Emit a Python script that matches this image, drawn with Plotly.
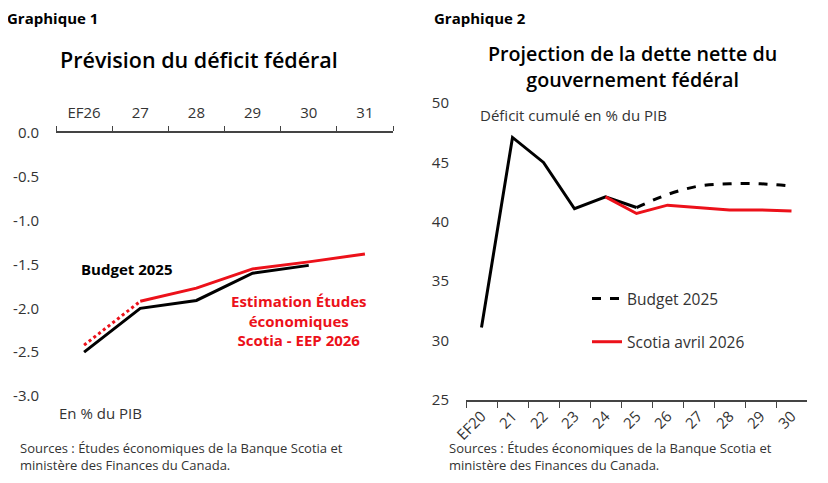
import plotly.graph_objects as go

# Graphique 1 - déficit fédéral (% du PIB)
years_def = ['EF26', '27', '28', '29', '30', '31']
budget_def = [-2.5, -2.0, -1.91, -1.6, -1.51, None]
scotia_def_est = [-2.42, -1.92, None, None, None, None]
scotia_def = [None, -1.92, -1.77, -1.55, -1.47, -1.38]

# Graphique 2 - dette nette (% du PIB)
years_debt = ['EF20', '21', '22', '23', '24', '25', '26', '27', '28', '29', '30']
budget_debt_hist = [31.1, 47.1, 45.0, 41.1, 42.1, 41.2, None, None, None, None, None]
budget_debt_proj = [None, None, None, None, None, 41.2, 42.3, 43.0, 43.2, 43.2, 43.0]
scotia_debt = [None, None, None, None, 42.1, 40.7, 41.4, 41.2, 41.0, 41.0, 40.9]

RED = '#EC111A'
TXT = '#333333'
FONT = 'Open Sans'

# page body has an 8px margin, so the figure is a bit smaller than the window
W, H, OFF = 820, 475, 8


def px(x):
    return (x - OFF) / W


def py(y):
    return 1 - (y - OFF) / H


fig = go.Figure()

# left chart
fig.add_trace(go.Scatter(x=years_def, y=budget_def, mode='lines',
                         line=dict(color='black', width=3), showlegend=False,
                         xaxis='x', yaxis='y'))
fig.add_trace(go.Scatter(x=years_def, y=scotia_def_est, mode='lines',
                         line=dict(color=RED, width=3, dash='dot'), showlegend=False,
                         xaxis='x', yaxis='y'))
fig.add_trace(go.Scatter(x=years_def, y=scotia_def, mode='lines',
                         line=dict(color=RED, width=3), showlegend=False,
                         xaxis='x', yaxis='y'))

# right chart
fig.add_trace(go.Scatter(x=years_debt, y=budget_debt_hist, mode='lines',
                         line=dict(color='black', width=3), showlegend=False,
                         xaxis='x2', yaxis='y2'))
fig.add_trace(go.Scatter(x=years_debt, y=budget_debt_proj, mode='lines',
                         line=dict(color='black', width=3, dash='dash', shape='spline'),
                         name='Budget 2025', legendgroup='a',
                         xaxis='x2', yaxis='y2'))
fig.add_trace(go.Scatter(x=years_debt, y=scotia_debt, mode='lines',
                         line=dict(color=RED, width=3),
                         name='Scotia avril 2026', legendgroup='b',
                         xaxis='x2', yaxis='y2'))

axis_font = dict(family=FONT, size=15, color=TXT)

fig.update_layout(
    width=W, height=H,
    margin=dict(l=0, r=0, t=0, b=0),
    plot_bgcolor='white', paper_bgcolor='white',
    font=dict(family=FONT, color=TXT),
    xaxis=dict(domain=[px(56), px(393)], side='top', anchor='y', range=[-0.5, 5.5],
               showline=True, linecolor='#444444', linewidth=1.5,
               ticks='outside', ticklen=5, tickcolor='#444444', tickson='boundaries',
               showgrid=False, tickfont=axis_font, ticklabelstandoff=7, automargin=False),
    yaxis=dict(domain=[py(396), py(133)], range=[-3.0, 0.0],
               tickvals=[0, -0.5, -1, -1.5, -2, -2.5, -3],
               ticktext=['0.0', '-0.5', '-1.0', '-1.5', '-2.0', '-2.5', '-3.0'],
               showgrid=False, zeroline=False, showline=False,
               tickfont=axis_font, ticklabelstandoff=16, automargin=False),
    xaxis2=dict(domain=[px(466), px(807)], anchor='y2', range=[-0.5, 10.5],
                showline=True, linecolor='#444444', linewidth=1.5,
                ticks='outside', ticklen=6, tickcolor='#444444', tickson='boundaries',
                tickangle=-45, showgrid=False, tickfont=axis_font, automargin=False),
    yaxis2=dict(domain=[py(400), py(103)], range=[25, 50], anchor='x2',
                dtick=5, showgrid=False, zeroline=False, showline=False,
                tickfont=axis_font, ticklabelstandoff=16, automargin=False),
    legend=dict(x=px(587), y=py(282), xanchor='left', yanchor='top',
                font=dict(family=FONT, size=15.5, color=TXT),
                bgcolor='rgba(0,0,0,0)', tracegroupgap=20, traceorder='grouped'),
)

src = 'Sources : Études économiques de la Banque Scotia et<br>ministère des Finances du Canada.'
ann = [
    dict(text='Graphique 1', x=5, y=18, size=15, color='black', xanchor='left', w=700),
    dict(text='Graphique 2', x=432, y=18, size=15, color='black', xanchor='left', w=700),
    dict(text='Prévision du déficit fédéral', x=199, y=60, size=21.5, color='black', xanchor='center', w=600),
    dict(text='Projection de la dette nette du<br>gouvernement fédéral', x=632, y=67, size=19.7, color='black', xanchor='center', w=600),
    dict(text='En % du PIB', x=57, y=413, size=15, color=TXT, xanchor='left', w=400),
    dict(text='Déficit cumulé en % du PIB', x=478, y=115, size=15, color=TXT, xanchor='left', w=400),
    dict(text=src, x=18, y=456, size=13, color=TXT, xanchor='left', w=400),
    dict(text=src, x=447, y=456, size=13, color=TXT, xanchor='left', w=400),
]
for a in ann:
    fig.add_annotation(text=a['text'], x=px(a['x']), y=py(a['y']), xref='paper', yref='paper',
                       xanchor=a['xanchor'], yanchor='middle', showarrow=False,
                       align='center' if a['xanchor'] == 'center' else 'left',
                       font=dict(family=FONT, size=a['size'], color=a['color'], weight=a['w']))

# labels on left chart
fig.add_annotation(text='Budget 2025', x=0.75, y=-1.55, xref='x', yref='y',
                   showarrow=False, font=dict(family=FONT, size=15, color='black', weight=700))
fig.add_annotation(text='Estimation Études<br>économiques<br>Scotia - EEP 2026',
                   x=3.81, y=-2.14, xref='x', yref='y', showarrow=False, align='center',
                   font=dict(family=FONT, size=15, color=RED, weight=700))

fig.write_html("out.html")
